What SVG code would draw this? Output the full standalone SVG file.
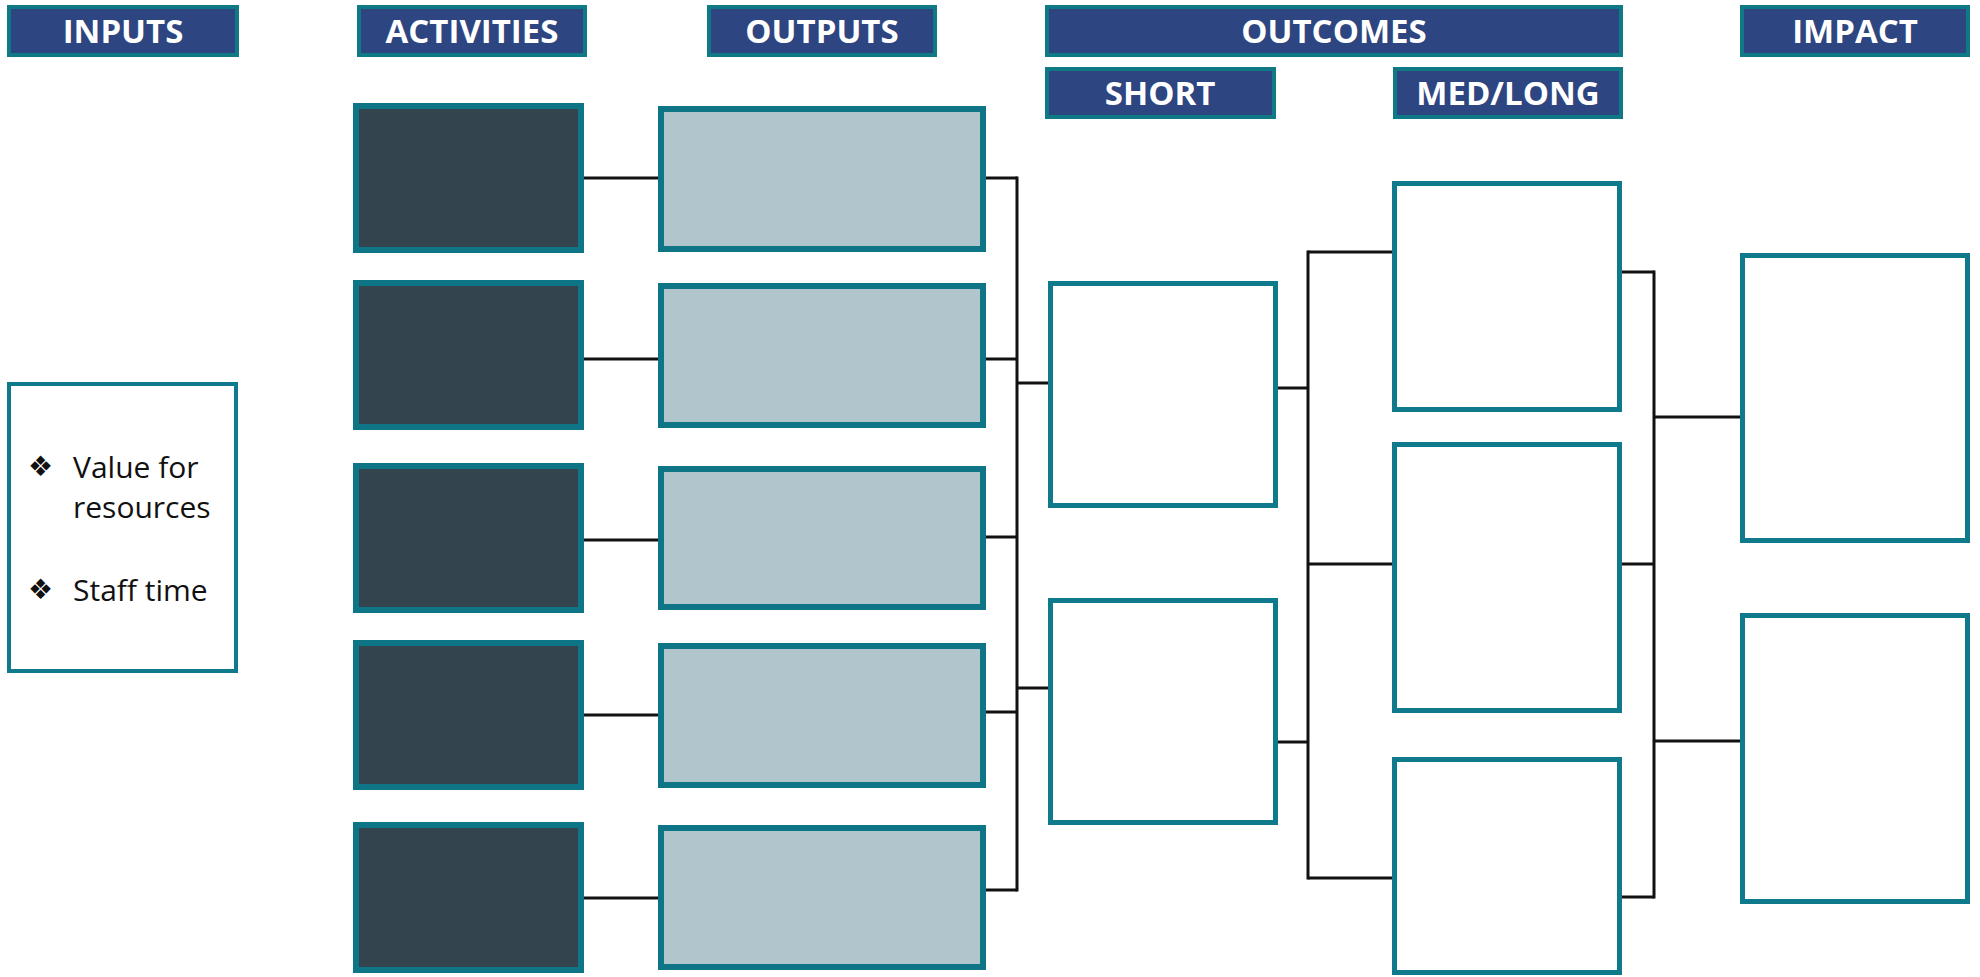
<svg xmlns="http://www.w3.org/2000/svg" width="1980" height="977" viewBox="0 0 1980 977">
<style>
.hdr{fill:#2d4580;stroke:#0f7a86;stroke-width:4}
.htxt{font-family:"Open Sans","Liberation Sans",sans-serif;font-weight:bold;font-size:33px;fill:#ffffff;text-anchor:middle}
.act{fill:#34444f;stroke:#0d7585;stroke-width:6}
.out{fill:#b1c5cc;stroke:#0d7585;stroke-width:6}
.box{fill:#ffffff;stroke:#0e7a8c;stroke-width:5}
.inp{fill:#ffffff;stroke:#0e7a8c;stroke-width:4}
.txt{font-family:"Open Sans","Liberation Sans",sans-serif;font-size:30px;fill:#111111}
.bul{font-family:"DejaVu Sans",sans-serif;font-size:28px;fill:#111111}
.conn{stroke:#111111;stroke-width:3;fill:none}
</style>
<rect width="1980" height="977" fill="#ffffff"/>

<g id="headers">
  <g id="h-inputs"><rect class="hdr" x="9" y="7" width="228" height="48"/><text class="htxt" x="123" y="43">INPUTS</text></g>
  <g id="h-activities"><rect class="hdr" x="359" y="7" width="226" height="48"/><text class="htxt" x="472" y="43">ACTIVITIES</text></g>
  <g id="h-outputs"><rect class="hdr" x="709" y="7" width="226" height="48"/><text class="htxt" x="822" y="43">OUTPUTS</text></g>
  <g id="h-outcomes"><rect class="hdr" x="1047" y="7" width="574" height="48"/><text class="htxt" x="1334" y="43">OUTCOMES</text></g>
  <g id="h-impact"><rect class="hdr" x="1742" y="7" width="226" height="48"/><text class="htxt" x="1855" y="43">IMPACT</text></g>
  <g id="h-short"><rect class="hdr" x="1047" y="69" width="227" height="48"/><text class="htxt" x="1160" y="105">SHORT</text></g>
  <g id="h-medlong"><rect class="hdr" x="1395" y="69" width="226" height="48"/><text class="htxt" x="1508" y="105">MED/LONG</text></g>
</g>

<g id="connectors">
  <line class="conn" x1="584" y1="178" x2="658" y2="178"/>
  <line class="conn" x1="584" y1="359" x2="658" y2="359"/>
  <line class="conn" x1="584" y1="540" x2="658" y2="540"/>
  <line class="conn" x1="584" y1="715" x2="658" y2="715"/>
  <line class="conn" x1="584" y1="898" x2="658" y2="898"/>
  <line class="conn" x1="986" y1="178" x2="1017" y2="178"/>
  <line class="conn" x1="986" y1="359" x2="1017" y2="359"/>
  <line class="conn" x1="986" y1="537" x2="1017" y2="537"/>
  <line class="conn" x1="986" y1="712" x2="1017" y2="712"/>
  <line class="conn" x1="986" y1="890" x2="1017" y2="890"/>
  <line class="conn" x1="1017" y1="176.5" x2="1017" y2="891.5"/>
  <line class="conn" x1="1017" y1="383" x2="1048" y2="383"/>
  <line class="conn" x1="1017" y1="688" x2="1048" y2="688"/>
  <line class="conn" x1="1278" y1="388" x2="1308" y2="388"/>
  <line class="conn" x1="1278" y1="742" x2="1308" y2="742"/>
  <line class="conn" x1="1308" y1="250.5" x2="1308" y2="879.5"/>
  <line class="conn" x1="1308" y1="252" x2="1392" y2="252"/>
  <line class="conn" x1="1308" y1="564" x2="1392" y2="564"/>
  <line class="conn" x1="1308" y1="878" x2="1392" y2="878"/>
  <line class="conn" x1="1622" y1="272" x2="1654" y2="272"/>
  <line class="conn" x1="1622" y1="564" x2="1654" y2="564"/>
  <line class="conn" x1="1622" y1="897" x2="1654" y2="897"/>
  <line class="conn" x1="1654" y1="270.5" x2="1654" y2="898.5"/>
  <line class="conn" x1="1654" y1="417" x2="1740" y2="417"/>
  <line class="conn" x1="1654" y1="741" x2="1740" y2="741"/>
</g>

<g id="inputs">
  <rect class="inp" x="9" y="384" width="227" height="287"/>
  <text class="bul" x="28" y="476">❖</text>
  <text class="txt" x="73" y="478">Value for</text>
  <text class="txt" x="73" y="518">resources</text>
  <text class="bul" x="28" y="599">❖</text>
  <text class="txt" x="73" y="601">Staff time</text>
</g>

<g id="activity-1"><rect class="act" x="356" y="106" width="225" height="144"/></g>
<g id="activity-2"><rect class="act" x="356" y="283" width="225" height="144"/></g>
<g id="activity-3"><rect class="act" x="356" y="466" width="225" height="144"/></g>
<g id="activity-4"><rect class="act" x="356" y="643" width="225" height="144"/></g>
<g id="activity-5"><rect class="act" x="356" y="825" width="225" height="145"/></g>

<g id="output-1"><rect class="out" x="661" y="109" width="322" height="140"/></g>
<g id="output-2"><rect class="out" x="661" y="286" width="322" height="139"/></g>
<g id="output-3"><rect class="out" x="661" y="469" width="322" height="138"/></g>
<g id="output-4"><rect class="out" x="661" y="646" width="322" height="139"/></g>
<g id="output-5"><rect class="out" x="661" y="828" width="322" height="139"/></g>

<g id="short-1"><rect class="box" x="1050.5" y="283.5" width="225" height="222"/></g>
<g id="short-2"><rect class="box" x="1050.5" y="600.5" width="225" height="222"/></g>

<g id="medlong-1"><rect class="box" x="1394.5" y="183.5" width="225" height="226"/></g>
<g id="medlong-2"><rect class="box" x="1394.5" y="444.5" width="225" height="266"/></g>
<g id="medlong-3"><rect class="box" x="1394.5" y="759.5" width="225" height="213"/></g>

<g id="impact-1"><rect class="box" x="1742.5" y="255.5" width="225" height="285"/></g>
<g id="impact-2"><rect class="box" x="1742.5" y="615.5" width="225" height="286"/></g>
</svg>
